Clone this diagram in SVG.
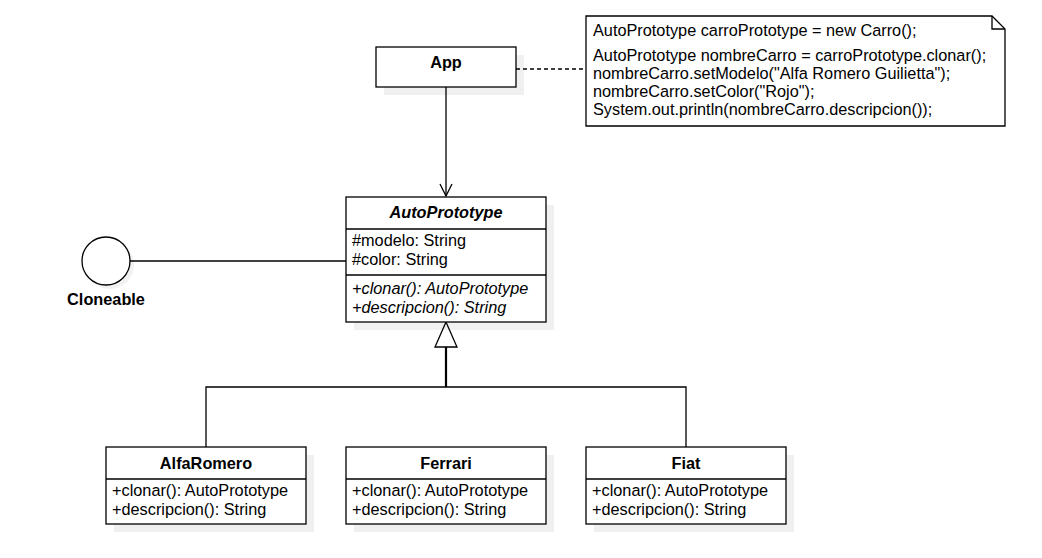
<svg xmlns="http://www.w3.org/2000/svg" width="1042" height="558" viewBox="0 0 1042 558">
<style>
text{font-family:"Liberation Sans",Arial,sans-serif;font-size:16.3px;fill:#000}
.b{font-weight:bold}
.i{font-style:italic}
.c{text-anchor:middle}
.box{fill:#fff;stroke:#000;stroke-width:1.3}
.sh{fill:#000;fill-opacity:0.06}
.ln{fill:none;stroke:#000;stroke-width:1.3}
</style>
<defs>
<marker id="open" markerWidth="14" markerHeight="14" refX="13" refY="7" orient="auto" markerUnits="userSpaceOnUse" viewBox="0 0 14 14">
<path d="M1,1 L13,7 L1,13" fill="none" stroke="#000" stroke-width="1.3"/>
</marker>
</defs>
<rect width="1042" height="558" fill="#fff"/>
<g id="connectors">
<line class="ln" x1="446" y1="87" x2="446" y2="196" marker-end="url(#open)"/>
<line class="ln" x1="516" y1="69" x2="586" y2="69" stroke-dasharray="4 3"/>
<line class="ln" x1="130" y1="261" x2="346" y2="261"/>
<polyline class="ln" points="206,447 206,387 686,387 686,447"/>
<line x1="446" y1="347" x2="446" y2="387" stroke="#000" stroke-width="2.2"/>
<polygon points="446,322 435,347 457,347" fill="#fff" stroke="#000" stroke-width="1.3"/>
</g>
<g id="app">
<rect class="sh" x="384" y="55" width="140" height="40"/>
<rect class="box" x="376" y="47" width="140" height="40"/>
<text class="b c" x="446" y="68">App</text>
</g>
<g id="note">
<path class="box" d="M586,16 H992 L1005,29 V126 H586 Z"/>
<path class="ln" d="M992,16 V29 H1005"/>
<text x="593" y="36">AutoPrototype carroPrototype = new Carro();</text>
<text x="593" y="61">AutoPrototype nombreCarro = carroPrototype.clonar();</text>
<text x="593" y="79">nombreCarro.setModelo("Alfa Romero Guilietta");</text>
<text x="593" y="97">nombreCarro.setColor("Rojo");</text>
<text x="593" y="115">System.out.println(nombreCarro.descripcion());</text>
</g>
<g id="autoprototype">
<rect class="sh" x="354" y="205" width="200" height="125"/>
<rect class="box" x="346" y="197" width="200" height="125"/>
<line class="ln" x1="346" y1="229" x2="546" y2="229"/>
<line class="ln" x1="346" y1="275" x2="546" y2="275"/>
<text class="b i c" x="446" y="218">AutoPrototype</text>
<text x="352" y="246">#modelo: String</text>
<text x="352" y="265">#color: String</text>
<text class="i" x="352" y="294">+clonar(): AutoPrototype</text>
<text class="i" x="352" y="313">+descripcion(): String</text>
</g>
<g id="cloneable">
<circle cx="110" cy="265" r="24" fill="#000" fill-opacity="0.05"/>
<circle cx="106" cy="261" r="24" fill="#fff" stroke="#000" stroke-width="1.3"/>
<text class="b c" x="106" y="305">Cloneable</text>
</g>
<g id="alfaromero">
<rect class="sh" x="114" y="455" width="200" height="77"/>
<rect class="box" x="106" y="447" width="200" height="77"/>
<line class="ln" x1="106" y1="479" x2="306" y2="479"/>
<text class="b c" x="206" y="469">AlfaRomero</text>
<text x="112" y="496">+clonar(): AutoPrototype</text>
<text x="112" y="515">+descripcion(): String</text>
</g>
<g id="ferrari">
<rect class="sh" x="354" y="455" width="200" height="77"/>
<rect class="box" x="346" y="447" width="200" height="77"/>
<line class="ln" x1="346" y1="479" x2="546" y2="479"/>
<text class="b c" x="446" y="469">Ferrari</text>
<text x="352" y="496">+clonar(): AutoPrototype</text>
<text x="352" y="515">+descripcion(): String</text>
</g>
<g id="fiat">
<rect class="sh" x="594" y="455" width="200" height="77"/>
<rect class="box" x="586" y="447" width="200" height="77"/>
<line class="ln" x1="586" y1="479" x2="786" y2="479"/>
<text class="b c" x="686" y="469">Fiat</text>
<text x="592" y="496">+clonar(): AutoPrototype</text>
<text x="592" y="515">+descripcion(): String</text>
</g>
</svg>
